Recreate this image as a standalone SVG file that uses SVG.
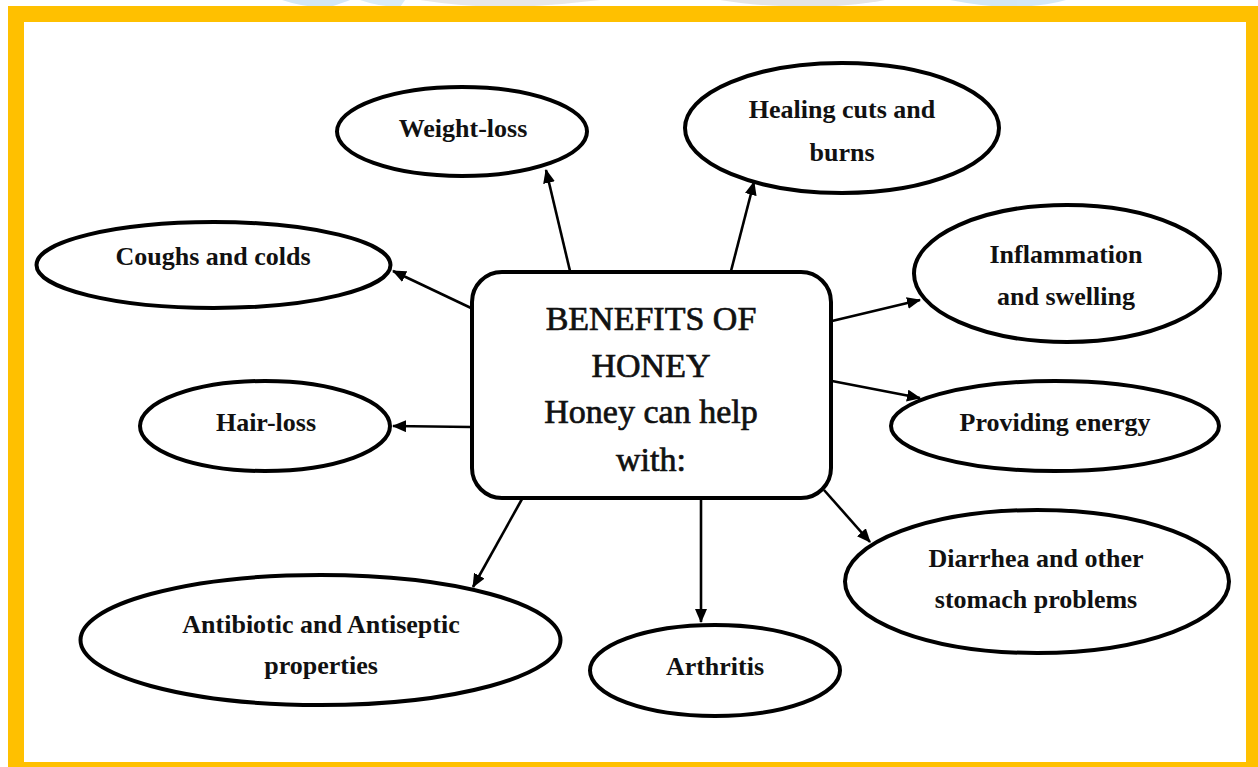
<svg xmlns="http://www.w3.org/2000/svg" width="1258" height="767" viewBox="0 0 1258 767">
  <style>
    .node { fill: #ffffff; stroke: #000000; stroke-width: 4; }
    .lbl { font-family: "Liberation Serif", "Times New Roman", serif; font-weight: bold; font-size: 26px; fill: #111111; text-anchor: middle; }
    .ctr { font-family: "Liberation Serif", "Times New Roman", serif; font-size: 34px; fill: #111111; stroke: #111111; stroke-width: 0.7; text-anchor: middle; }
    .edge { stroke: #000000; stroke-width: 2.6; fill: none; marker-end: url(#arrow); }
  </style>
  <defs>
    <marker id="arrow" markerUnits="userSpaceOnUse" markerWidth="14" markerHeight="12" viewBox="0 0 14 12" refX="13" refY="6" orient="auto">
      <path d="M0,0 L14,6 L0,12 z" fill="#000000"/>
    </marker>
  </defs>

  <!-- background and faint watermark sliver -->
  <rect x="0" y="0" width="1258" height="767" fill="#ffffff"/>
  <g id="watermark" opacity="0.9">
    <path d="M282,0 Q300,6 318,7 L330,7 Q345,2 350,0 z" fill="#cfe5f6"/>
    <path d="M360,0 Q380,7 400,7 L405,0 z" fill="#d6eaf8"/>
    <path d="M420,0 Q470,8 520,7 Q560,5 600,0 z" fill="#e6e6e6"/>
    <path d="M720,0 Q760,7 820,7 Q860,5 885,0 z" fill="#e3e3e3"/>
    <path d="M950,0 Q990,8 1020,7 Q1050,5 1066,0 z" fill="#cfe5f6"/>
  </g>

  <!-- yellow frame -->
  <path d="M8,6 H1258 V767 H8 z M24,22 V762 H1246 V22 z" fill="#FFC000" fill-rule="evenodd"/>

  <g id="connectors">
    <line class="edge" x1="570" y1="271" x2="546" y2="170"/>
    <line class="edge" x1="731" y1="271" x2="754" y2="182"/>
    <line class="edge" x1="471" y1="308" x2="393" y2="271"/>
    <line class="edge" x1="471" y1="427" x2="393" y2="426"/>
    <line class="edge" x1="832" y1="321" x2="920" y2="300"/>
    <line class="edge" x1="832" y1="381" x2="920" y2="398"/>
    <line class="edge" x1="522" y1="499" x2="473" y2="587"/>
    <line class="edge" x1="701" y1="499" x2="701" y2="622"/>
    <line class="edge" x1="824" y1="490" x2="870" y2="542"/>
  </g>

  <g id="center">
    <rect class="node" x="472" y="272" width="359" height="226" rx="30" ry="30"/>
    <text class="ctr" x="651" y="330">BENEFITS OF</text>
    <text class="ctr" x="651" y="377">HONEY</text>
    <text class="ctr" x="651" y="423" font-size="36">Honey can help</text>
    <text class="ctr" x="651" y="471" font-size="36">with:</text>
  </g>

  <g id="weight-loss">
    <ellipse class="node" cx="462" cy="131.5" rx="125" ry="44.5"/>
    <text class="lbl" x="463" y="137">Weight-loss</text>
  </g>

  <g id="healing">
    <ellipse class="node" cx="842" cy="128" rx="157" ry="65"/>
    <text class="lbl" x="842" y="118">Healing cuts and</text>
    <text class="lbl" x="842" y="161">burns</text>
  </g>

  <g id="coughs">
    <ellipse class="node" cx="213.5" cy="265" rx="177" ry="43"/>
    <text class="lbl" x="213" y="265">Coughs and colds</text>
  </g>

  <g id="inflammation">
    <ellipse class="node" cx="1067" cy="273.5" rx="153" ry="68.5"/>
    <text class="lbl" x="1066" y="263">Inflammation</text>
    <text class="lbl" x="1066" y="305">and swelling</text>
  </g>

  <g id="hair-loss">
    <ellipse class="node" cx="265" cy="426" rx="125" ry="45"/>
    <text class="lbl" x="266" y="431">Hair-loss</text>
  </g>

  <g id="energy">
    <ellipse class="node" cx="1055" cy="426" rx="164" ry="45"/>
    <text class="lbl" x="1055" y="431">Providing energy</text>
  </g>

  <g id="antibiotic">
    <ellipse class="node" cx="320.5" cy="640" rx="240" ry="65"/>
    <text class="lbl" x="321" y="633">Antibiotic and Antiseptic</text>
    <text class="lbl" x="321" y="674">properties</text>
  </g>

  <g id="arthritis">
    <ellipse class="node" cx="715" cy="670.5" rx="125" ry="45.5"/>
    <text class="lbl" x="715" y="675">Arthritis</text>
  </g>

  <g id="diarrhea">
    <ellipse class="node" cx="1037" cy="581.5" rx="192" ry="71.5"/>
    <text class="lbl" x="1036" y="567">Diarrhea and other</text>
    <text class="lbl" x="1036" y="608">stomach problems</text>
  </g>
</svg>
